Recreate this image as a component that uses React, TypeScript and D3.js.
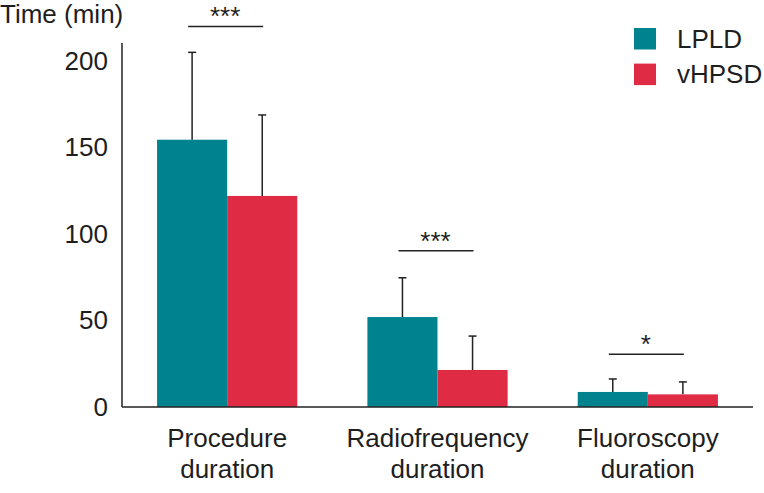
import React from "react";
import * as d3 from "d3";

const categories = ["Procedure\nduration", "Radiofrequency\nduration", "Fluoroscopy\nduration"];
const seriesNames = ["LPLD", "vHPSD"];
const lpldMean = [154.5, 52, 8.7];
const lpldSD = [50.5, 22.7, 7.5];
const vhpsdMean = [122, 21.4, 7.3];
const vhpsdSD = [46.8, 19.6, 7.2];
const sigLabels = ["***", "***", "*"];
const sigLevels = [220, 90.3, 30.5];
const yTicks = [0, 50, 100, 150, 200];
const colors = ["#00838F", "#E02B45"];

const W = 764;
const H = 493;
const FONT = "'Liberation Sans', Arial, Helvetica, sans-serif";
const FS = 26;

export default function App() {
  const x = d3.scaleBand<string>().domain(categories).range([122, 753]).paddingInner(1 / 3).paddingOuter(1 / 6);
  const sub = d3.scaleBand<string>().domain(seriesNames).range([0, x.bandwidth()]);
  const y = d3.scaleLinear().domain([0, 200]).range([407, 61]);
  const means = [lpldMean, vhpsdMean];
  const sds = [lpldSD, vhpsdSD];
  const cap = 4;

  return (
    <svg width={W} height={H} style={{ position: "absolute", left: 0, top: 0 }} fontFamily={FONT}>
      <rect width={W} height={H} fill="#fff" />
      {categories.map((c, i) =>
        seriesNames.map((s, k) => {
          const bx = (x(c) as number) + (sub(s) as number);
          const bw = sub.bandwidth();
          const top = y(means[k][i]);
          const et = y(means[k][i] + sds[k][i]);
          const cx = bx + bw / 2;
          return (
            <g key={c + s}>
              <rect x={bx} y={top} width={bw} height={y(0) - top} fill={colors[k]} />
              <line x1={cx} x2={cx} y1={top} y2={et} stroke="#222" strokeWidth={1.5} />
              <line x1={cx - cap} x2={cx + cap} y1={et} y2={et} stroke="#222" strokeWidth={1.5} />
            </g>
          );
        })
      )}
      <line x1={122} x2={122} y1={43} y2={y(0)} stroke="#222" strokeWidth={1.5} />
      <line x1={122} x2={753} y1={y(0)} y2={y(0)} stroke="#222" strokeWidth={1.5} />
      {yTicks.map((t) => (
        <text key={t} x={108} y={y(t)} dy="0.34em" textAnchor="end" fontSize={FS} fill="#1e1e1e">
          {t}
        </text>
      ))}
      <text x={0} y={23} fontSize={FS} fill="#1e1e1e">Time (min)</text>
      {categories.map((c) => {
        const cx = (x(c) as number) + x.bandwidth() / 2;
        return (
          <text key={c} x={cx} textAnchor="middle" fontSize={FS} fill="#1e1e1e">
            {c.split("\n").map((l, j) => (
              <tspan key={j} x={cx} y={447 + j * 30.5}>{l}</tspan>
            ))}
          </text>
        );
      })}
      {categories.map((c, i) => {
        const cx = (x(c) as number) + x.bandwidth() / 2;
        const ly = y(sigLevels[i]);
        return (
          <g key={"sig" + i}>
            <line x1={cx - 39} x2={cx + 36} y1={ly} y2={ly} stroke="#222" strokeWidth={1.5} />
            <text x={cx - 2} y={ly - 1} textAnchor="middle" fontSize={FS} fill="#1e1e1e">{sigLabels[i]}</text>
          </g>
        );
      })}
      {seriesNames.map((s, k) => (
        <g key={s}>
          <rect x={634} y={28 + k * 35.6} width={22} height={21.5} fill={colors[k]} />
          <text x={677} y={38.5 + k * 35.6} dy="0.35em" fontSize={FS} fill="#1e1e1e">{s}</text>
        </g>
      ))}
    </svg>
  );
}
